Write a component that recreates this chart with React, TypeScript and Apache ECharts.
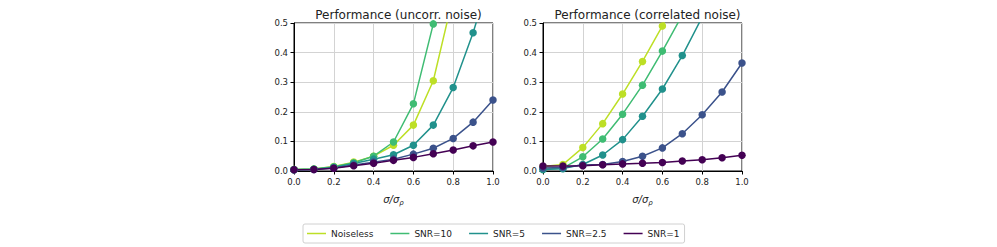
import React, { useEffect, useRef } from "react";
import * as echarts from "echarts";

const xValues = [0, 0.1, 0.2, 0.3, 0.4, 0.5, 0.6, 0.7, 0.8, 0.9, 1.0];
const seriesNames = ["Noiseless", "SNR=10", "SNR=5", "SNR=2.5", "SNR=1"];
const seriesColors = ["#bddf26", "#3fbc73", "#21918c", "#3b528b", "#440154"];
const titles = ["Performance (uncorr. noise)", "Performance (correlated noise)"];

// uncorrelated noise
const uncNoiseless = [0.005, 0.007, 0.015, 0.03, 0.05, 0.087, 0.155, 0.305, 0.59, 0.9, 1.3];
const uncSnr10 = [0.005, 0.007, 0.014, 0.028, 0.05, 0.098, 0.227, 0.497, 0.95, 1.5, 2.1];
const uncSnr5 = [0.004, 0.006, 0.012, 0.025, 0.04, 0.055, 0.087, 0.155, 0.282, 0.467, 0.69];
const uncSnr25 = [0.004, 0.005, 0.01, 0.02, 0.03, 0.04, 0.057, 0.077, 0.11, 0.165, 0.24];
const uncSnr1 = [0.004, 0.005, 0.009, 0.018, 0.026, 0.036, 0.046, 0.058, 0.071, 0.085, 0.098];

// correlated noise
const corNoiseless = [0.015, 0.022, 0.079, 0.16, 0.26, 0.37, 0.49, 0.62, 0.76, 0.9, 1.05];
const corSnr10 = [0.005, 0.01, 0.048, 0.108, 0.192, 0.29, 0.405, 0.527, 0.66, 0.8, 0.95];
const corSnr5 = [0.005, 0.008, 0.022, 0.054, 0.106, 0.185, 0.277, 0.39, 0.52, 0.67, 0.84];
const corSnr25 = [0.01, 0.012, 0.02, 0.022, 0.032, 0.05, 0.078, 0.126, 0.19, 0.267, 0.365];
const corSnr1 = [0.017, 0.017, 0.018, 0.021, 0.024, 0.026, 0.029, 0.034, 0.038, 0.045, 0.053];

const panels = [
  [uncNoiseless, uncSnr10, uncSnr5, uncSnr25, uncSnr1],
  [corNoiseless, corSnr10, corSnr5, corSnr25, corSnr1],
];

const FONT = "DejaVu Sans";

export default function App() {
  const ref = useRef<HTMLDivElement>(null);
  useEffect(() => {
    if (!ref.current) return;
    const chart = echarts.init(ref.current, undefined, { renderer: "svg" });
    const gridLefts = [294, 543];
    const grids = gridLefts.map((l) => ({
      left: l,
      top: 23,
      width: 199,
      height: 148,
      show: true,
      borderColor: "#000",
      borderWidth: 1,
      backgroundColor: "transparent",
    }));
    const xAxes = gridLefts.map((_, i) => ({
      type: "value",
      gridIndex: i,
      min: 0,
      max: 1,
      interval: 0.2,
      name: "{a|σ/σ}{b|ρ}",
      nameLocation: "middle",
      nameGap: 22,
      nameTextStyle: {
        rich: {
          a: { fontFamily: FONT, fontSize: 10, fontStyle: "italic", color: "#222" },
          b: { fontFamily: FONT, fontSize: 7, fontStyle: "italic", color: "#222", padding: [6, 0, 0, 0] },
        },
      },
      axisLine: { show: true, onZero: false, lineStyle: { color: "#000", width: 1 } },
      axisTick: { show: true, inside: false, length: 3.5, lineStyle: { color: "#000" } },
      axisLabel: {
        fontFamily: FONT,
        fontSize: 8.5,
        color: "#222",
        margin: 6,
        formatter: (v: number) => v.toFixed(1),
      },
      splitLine: { show: true, lineStyle: { color: "#d3d3d3", width: 1 } },
    }));
    const yAxes = gridLefts.map((_, i) => ({
      type: "value",
      gridIndex: i,
      min: 0,
      max: 0.5,
      interval: 0.1,
      axisLine: { show: true, onZero: false, lineStyle: { color: "#000", width: 1 } },
      axisTick: { show: true, inside: false, length: 3.5, lineStyle: { color: "#000" } },
      axisLabel: {
        fontFamily: FONT,
        fontSize: 8.5,
        color: "#222",
        margin: 6,
        formatter: (v: number) => v.toFixed(1),
      },
      splitLine: { show: true, lineStyle: { color: "#d3d3d3", width: 1 } },
    }));
    const series: any[] = [];
    panels.forEach((panel, pi) => {
      panel.forEach((vals, si) => {
        series.push({
          type: "line",
          name: seriesNames[si],
          xAxisIndex: pi,
          yAxisIndex: pi,
          data: xValues.map((x, k) => [x, vals[k]]),
          symbol: "circle",
          symbolSize: 7.5,
          showSymbol: true,
          clip: true,
          lineStyle: { color: seriesColors[si], width: 1.5 },
          itemStyle: { color: seriesColors[si] },
          emphasis: { disabled: true },
        });
      });
    });
    chart.setOption({
      animation: false,
      title: titles.map((t, i) => ({
        text: t,
        left: gridLefts[i] + 99.5,
        textAlign: "center",
        top: 4,
        textStyle: { fontFamily: FONT, fontSize: 12, fontWeight: "normal", color: "#222" },
      })),
      grid: grids,
      xAxis: xAxes,
      yAxis: yAxes,
      legend: {
        data: seriesNames,
        left: 303,
        top: 224,
        orient: "horizontal",
        icon: "rect",
        itemWidth: 19,
        itemHeight: 1.5,
        itemGap: 17,
        padding: [5, 5, 5, 4],
        borderColor: "#d0d0d0",
        borderWidth: 1,
        borderRadius: 2,
        selectedMode: false,
        textStyle: { fontFamily: FONT, fontSize: 9, color: "#222" },
      },
      series,
    });
    return () => chart.dispose();
  }, []);
  return (
    <div
      ref={ref}
      style={{ position: "fixed", left: 0, top: 0, width: 997, height: 247, background: "#fff" }}
    />
  );
}
